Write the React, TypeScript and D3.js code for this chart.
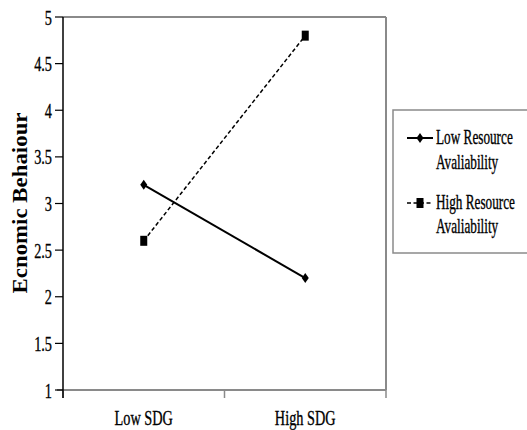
import React from "react";
import * as d3 from "d3";

const categories = ["Low SDG", "High SDG"];
const lowResource = [3.2, 2.2];
const highResource = [2.6, 4.8];
const yTicks = [1, 1.5, 2, 2.5, 3, 3.5, 4, 4.5, 5];
const seriesNames = ["Low Resource Avaliability", "High Resource Avaliability"];
const yTitle = "Ecnomic Behaiour";

const W = 527, H = 430;
const left = 63, right = 386, top = 17, bottom = 390;
const FONT = "'Liberation Serif', 'Times New Roman', serif";
const GRAY = "#8a8a8a";

function diamond(cx: number, cy: number) {
  return `M${cx},${cy - 5} L${cx + 3.5},${cy} L${cx},${cy + 5} L${cx - 3.5},${cy} Z`;
}

function HText({ x, y, anchor = "start", size = 22, sx = 0.65, children }: any) {
  return (
    <text
      transform={`translate(${x},${y}) scale(${sx},1)`}
      textAnchor={anchor}
      fontFamily={FONT}
      fontSize={size}
      fill="#000"
      stroke="#000"
      strokeWidth={0.35}
    >
      {children}
    </text>
  );
}

export default function App() {
  const x = d3.scaleBand<string>().domain(categories).range([left, right]);
  const y = d3.scaleLinear().domain([1, 5]).range([bottom, top]);
  const cx = (c: string) => (x(c) as number) + x.bandwidth() / 2;
  const line = d3
    .line<number>()
    .x((_, i) => cx(categories[i]))
    .y((d) => y(d));

  const xTickPos = [left, ...categories.map((c) => (x(c) as number) + x.bandwidth())];

  return (
    <svg width={W} height={H} style={{ position: "absolute", left: 0, top: 0 }}>
      <rect width={W} height={H} fill="#fff" />
      {/* frame */}
      <line x1={left} x2={right} y1={top} y2={top} stroke={GRAY} strokeWidth={2} />
      <line x1={right} x2={right} y1={top} y2={bottom} stroke={GRAY} strokeWidth={2} />
      <line x1={left - 6} x2={right} y1={bottom} y2={bottom} stroke={GRAY} strokeWidth={2} />
      {xTickPos.map((p, i) => (
        <line key={i} x1={p} x2={p} y1={bottom} y2={bottom + 8} stroke={GRAY} strokeWidth={1.5} />
      ))}
      <line x1={left} x2={left} y1={top} y2={bottom + 8} stroke="#000" strokeWidth={1.5} />
      {yTicks.map((t) => (
        <g key={t}>
          <line x1={left - 8} x2={left} y1={y(t)} y2={y(t)} stroke="#000" strokeWidth={1.2} />
          <HText x={left - 11} y={y(t) + 7.5} anchor="end">
            {String(t)}
          </HText>
        </g>
      ))}
      {categories.map((c) => (
        <HText key={c} x={cx(c)} y={425} anchor="middle">
          {c}
        </HText>
      ))}
      <text
        transform={`translate(27,203) rotate(-90)`}
        textAnchor="middle"
        fontFamily={FONT}
        fontWeight="bold"
        fontSize={21}
        textLength={181}
        lengthAdjust="spacingAndGlyphs"
      >
        {yTitle}
      </text>

      {/* series */}
      <path d={line(lowResource) || ""} fill="none" stroke="#000" strokeWidth={2} />
      <path d={line(highResource) || ""} fill="none" stroke="#000" strokeWidth={1.5} strokeDasharray="4,2.5" />
      {lowResource.map((v, i) => (
        <path key={i} d={diamond(cx(categories[i]), y(v))} fill="#000" />
      ))}
      {highResource.map((v, i) => (
        <rect key={i} x={cx(categories[i]) - 3.5} y={y(v) - 5} width={7} height={10} fill="#000" />
      ))}

      {/* legend */}
      <rect x={393} y={110} width={150} height={143} fill="#fff" stroke={GRAY} strokeWidth={1.5} />
      <line x1={407} x2={433} y1={138} y2={138} stroke="#000" strokeWidth={2} />
      <path d={diamond(420, 138)} fill="#000" />
      <HText x={436} y={144} size={21} sx={0.63}>{seriesNames[0].split(" ").slice(0, 2).join(" ")}</HText>
      <HText x={436} y={169} size={21} sx={0.63}>{seriesNames[0].split(" ")[2]}</HText>
      <line x1={407} x2={433} y1={203} y2={203} stroke="#000" strokeWidth={1.5} strokeDasharray="4,2.5" />
      <rect x={416.5} y={198} width={7} height={10} fill="#000" />
      <HText x={436} y={209} size={21} sx={0.63}>{seriesNames[1].split(" ").slice(0, 2).join(" ")}</HText>
      <HText x={436} y={233} size={21} sx={0.63}>{seriesNames[1].split(" ")[2]}</HText>
    </svg>
  );
}
